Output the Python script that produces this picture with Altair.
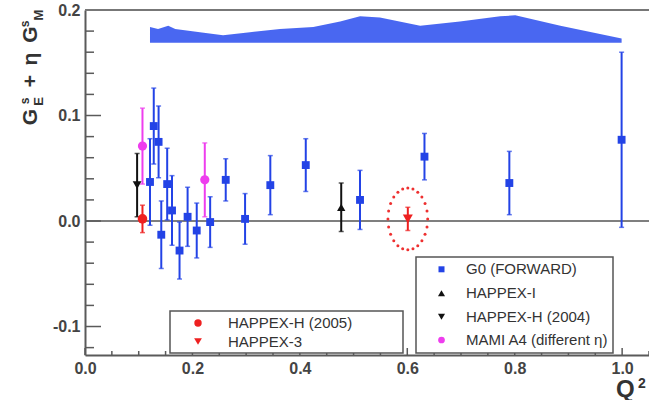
import altair as alt
import numpy as np
import pandas as pd

# ---- measurements -------------------------------------------------------
# G0 forward-angle results
g0_q = [0.121, 0.128, 0.137, 0.142, 0.153, 0.162, 0.176, 0.191, 0.208,
        0.233, 0.262, 0.298, 0.345, 0.411, 0.512, 0.632, 0.790, 0.999]
g0_val = [0.037, 0.090, 0.075, -0.013, 0.035, 0.010, -0.028, 0.004, -0.009,
          -0.001, 0.039, 0.002, 0.034, 0.053, 0.020, 0.061, 0.036, 0.077]
g0_err = [0.041, 0.036, 0.034, 0.032, 0.034, 0.033, 0.027, 0.028, 0.026,
          0.024, 0.020, 0.024, 0.028, 0.025, 0.028, 0.022, 0.030, 0.083]

happex1_q, happex1_val, happex1_err = [0.477], [0.013], [0.023]
happexh04_q, happexh04_val, happexh04_err = [0.097], [0.034], [0.030]
mami_q, mami_val, mami_err = [0.107, 0.223], [0.071, 0.039], [0.036, 0.035]
happexh05_q, happexh05_val, happexh05_err = [0.107], [0.002], [0.013]
happex3_q, happex3_val, happex3_err = [0.601], [0.002], [0.011]

# G0 systematic-uncertainty band drawn at the top of the frame
band_q = [0.121, 0.136, 0.155, 0.168, 0.214, 0.257, 0.307, 0.363, 0.425,
          0.475, 0.512, 0.549, 0.624, 0.698, 0.773, 0.801, 0.885, 0.999]
band_top = [0.184, 0.182, 0.185, 0.182, 0.179, 0.176, 0.179, 0.182, 0.184,
            0.189, 0.194, 0.193, 0.185, 0.189, 0.194, 0.195, 0.185, 0.173]
band_base = 0.169

series_names = ["G0 (FORWARD)", "HAPPEX-I", "HAPPEX-H (2004)",
                "MAMI A4 (different η)", "HAPPEX-H (2005)", "HAPPEX-3"]
series_colors = ["#2343e6", "#111111", "#111111", "#ee3dee", "#ee2020", "#ee2020"]
series_shapes = ["square", "triangle-up", "triangle-down", "circle", "circle",
                 "triangle-down"]
series_sizes = [62, 100, 100, 60, 60, 100]

y_major = [-0.1, 0.0, 0.1, 0.2]
y_minor = [-0.12, -0.08, -0.06, -0.04, -0.02, 0.02, 0.04, 0.06, 0.08,
           0.12, 0.14, 0.16, 0.18]
x_major = [0.0, 0.2, 0.4, 0.6, 0.8, 1.0]
x_minor = [0.05, 0.1, 0.15, 0.25, 0.3, 0.35, 0.45, 0.5, 0.55, 0.65, 0.7,
           0.75, 0.85, 0.9, 0.95, 1.05]

# ---- layout -------------------------------------------------------------
W, H = 564, 345
xs = alt.Scale(domain=[0, 1.05], nice=False, zero=False)
ys = alt.Scale(domain=[-0.127, 0.2], nice=False, zero=False)
cs = alt.Scale(domain=series_names, range=series_colors)
ss = alt.Scale(domain=series_names, range=series_shapes)
zs = alt.Scale(domain=series_names, range=series_sizes)
AX = "#5a5a5a"
FONT = "Liberation Sans"

rows = []
for name, qs, vs, es in [
    ("G0 (FORWARD)", g0_q, g0_val, g0_err),
    ("HAPPEX-I", happex1_q, happex1_val, happex1_err),
    ("HAPPEX-H (2004)", happexh04_q, happexh04_val, happexh04_err),
    ("MAMI A4 (different η)", mami_q, mami_val, mami_err),
    ("HAPPEX-H (2005)", happexh05_q, happexh05_val, happexh05_err),
    ("HAPPEX-3", happex3_q, happex3_val, happex3_err),
]:
    for q, v, e in zip(qs, vs, es):
        rows.append({"series": name, "q": q, "val": v, "lo": v - e, "hi": v + e})
pts = pd.DataFrame(rows)

one = pd.DataFrame({"k": [0]})

band = alt.Chart(pd.DataFrame({"q": band_q, "top": band_top,
                               "base": [band_base] * len(band_q)})).mark_area(
    color="#3556f0", opacity=0.9
).encode(
    x=alt.X("q:Q", scale=xs),
    y=alt.Y("base:Q", scale=ys),
    y2="top:Q",
)

zero_line = alt.Chart(pd.DataFrame({"v": [0.0]})).mark_rule(
    color="#555555", strokeWidth=1.6
).encode(y=alt.Y("v:Q", scale=ys))

ymaj = alt.Chart(pd.DataFrame({"v": y_major})).mark_rule(
    color=AX, strokeWidth=1.5
).encode(y=alt.Y("v:Q", scale=ys), x=alt.value(0), x2=alt.value(16))
ymin = alt.Chart(pd.DataFrame({"v": y_minor})).mark_rule(
    color=AX, strokeWidth=1.5
).encode(y=alt.Y("v:Q", scale=ys), x=alt.value(0), x2=alt.value(9))
xmaj = alt.Chart(pd.DataFrame({"v": x_major})).mark_rule(
    color=AX, strokeWidth=1.5
).encode(x=alt.X("v:Q", scale=xs), y=alt.value(H), y2=alt.value(H - 7))
xmin = alt.Chart(pd.DataFrame({"v": x_minor})).mark_rule(
    color=AX, strokeWidth=1.5
).encode(x=alt.X("v:Q", scale=xs), y=alt.value(H), y2=alt.value(H - 4))

top_frame = alt.Chart(one).mark_rule(color="#777777", strokeWidth=2).encode(
    x=alt.value(0), x2=alt.value(W), y=alt.value(0)
)

bars = alt.Chart(pts).mark_rule(strokeWidth=2).encode(
    x=alt.X("q:Q", scale=xs),
    y=alt.Y("lo:Q", scale=ys),
    y2="hi:Q",
    color=alt.Color("series:N", scale=cs, legend=None),
)
cap_lo = alt.Chart(pts).mark_tick(orient="horizontal", size=5, thickness=1.5).encode(
    x=alt.X("q:Q", scale=xs),
    y=alt.Y("lo:Q", scale=ys),
    color=alt.Color("series:N", scale=cs, legend=None),
)
cap_hi = alt.Chart(pts).mark_tick(orient="horizontal", size=5, thickness=1.5).encode(
    x=alt.X("q:Q", scale=xs),
    y=alt.Y("hi:Q", scale=ys),
    color=alt.Color("series:N", scale=cs, legend=None),
)

label_expr = "replace(format(datum.value, '.1f'), '\u2212', '-')"
axis_x = alt.Axis(values=x_major, labelExpr=label_expr, title=None, ticks=False,
                  grid=False, labelFlush=False, labelOverlap=False,
                  labelPadding=5, domainColor=AX, domainWidth=2)
axis_y = alt.Axis(values=y_major, labelExpr=label_expr, title=None, ticks=False,
                  grid=False, labelOverlap=False, labelPadding=5,
                  domainColor=AX, domainWidth=2)

markers = alt.Chart(pts).mark_point(filled=True, opacity=1).encode(
    x=alt.X("q:Q", scale=xs, axis=axis_x),
    y=alt.Y("val:Q", scale=ys, axis=axis_y),
    color=alt.Color("series:N", scale=cs, legend=None),
    shape=alt.Shape("series:N", scale=ss, legend=None),
    size=alt.Size("series:N", scale=zs, legend=None),
)

# dotted ring around the HAPPEX-3 point
t = np.linspace(0, 2 * np.pi, 24, endpoint=False)
ring = pd.DataFrame({"q": happex3_q[0] + 0.037 * np.cos(t),
                     "v": happex3_val[0] + 0.0293 * np.sin(t)})
ring_layer = alt.Chart(ring).mark_circle(color="#ee3030", size=9, opacity=1).encode(
    x=alt.X("q:Q", scale=xs), y=alt.Y("v:Q", scale=ys)
)

# legend boxes
box_left = alt.Chart(one).mark_rect(fill="white", stroke="#555555", strokeWidth=1.5).encode(
    x=alt.value(85), x2=alt.value(318), y=alt.value(301), y2=alt.value(343)
)
box_right = alt.Chart(one).mark_rect(fill="white", stroke="#555555", strokeWidth=1.5).encode(
    x=alt.value(331), x2=alt.value(528), y=alt.value(247), y2=alt.value(343)
)

legend_rows = pd.DataFrame({
    "series": ["HAPPEX-H (2005)", "HAPPEX-3", "G0 (FORWARD)", "HAPPEX-I",
               "HAPPEX-H (2004)", "MAMI A4 (different η)"],
    "sx": [113, 113, 356.5, 356.5, 356.5, 356.5],
    "tx": [143, 143, 381, 381, 381, 381],
    "ly": [313, 331.5, 259.3, 283.3, 306.7, 330],
    "sz": [55, 60, 36, 50, 50, 45],
})
legend_sym = alt.Chart(legend_rows).mark_point(filled=True, opacity=1).encode(
    x=alt.X("sx:Q", scale=None),
    y=alt.Y("ly:Q", scale=None),
    color=alt.Color("series:N", scale=cs, legend=None),
    shape=alt.Shape("series:N", scale=ss, legend=None),
    size=alt.Size("sz:Q", scale=None, legend=None),
)
legend_txt = alt.Chart(legend_rows).mark_text(
    align="left", baseline="middle", font=FONT, fontSize=15, color="#333333"
).encode(
    x=alt.X("tx:Q", scale=None),
    y=alt.Y("ly:Q", scale=None),
    text="series:N",
)

# axis titles built from pieces so the sub/superscripts sit correctly
title_parts = pd.DataFrame({
    "txt": ["G", "s", "E", "+", "η", "G", "s", "M"],
    "px": [-48, -56, -42.5, -48, -48, -48, -56, -42.5],
    "py": [107, 91, 91.5, 71, 49, 24.5, 14, 5],
    "fs": [21, 12, 13, 21, 21, 21, 12, 13],
})
ytitle = alt.Chart(title_parts).mark_text(
    angle=270, align="center", baseline="alphabetic", font=FONT,
    fontWeight="bold", color="#333333"
).encode(
    x=alt.X("px:Q", scale=None),
    y=alt.Y("py:Q", scale=None),
    text="txt:N",
    size=alt.Size("fs:Q", scale=None, legend=None),
)

xtitle_parts = pd.DataFrame({"txt": ["Q", "2"], "px": [531, 553],
                             "py": [386.5, 378], "fs": [24, 14]})
xtitle = alt.Chart(xtitle_parts).mark_text(
    align="left", baseline="alphabetic", font=FONT, fontWeight="bold",
    color="#333333"
).encode(
    x=alt.X("px:Q", scale=None),
    y=alt.Y("py:Q", scale=None),
    text="txt:N",
    size=alt.Size("fs:Q", scale=None, legend=None),
)

chart = alt.layer(
    band, zero_line, ymaj, ymin, xmaj, xmin, top_frame,
    bars, cap_lo, cap_hi, markers, ring_layer,
    box_left, box_right, legend_sym, legend_txt, ytitle, xtitle,
).resolve_scale(
    size="independent"
).properties(
    width=W, height=H,
    autosize=alt.AutoSizeParams(type="none"),
    padding={"left": 85, "top": 10, "right": 0, "bottom": 45},
    background="white",
).configure_view(
    stroke=None
).configure_axis(
    labelFont=FONT, labelFontSize=16, labelFontWeight="bold", labelColor="#444444"
)

chart.save("out.html", embed_options={"renderer": "svg", "actions": False})
